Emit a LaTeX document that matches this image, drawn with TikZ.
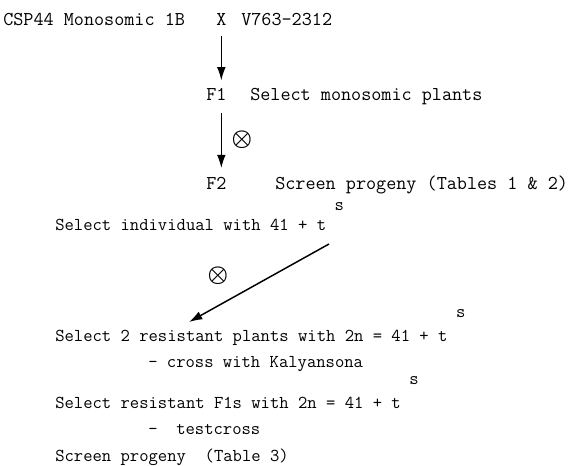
\documentclass[tikz,border=0pt]{standalone}
\usetikzlibrary{arrows.meta}
\begin{document}
\begin{tikzpicture}[
	x=0.75pt, y=-0.75pt,
	every node/.style={font=\ttfamily\fontsize{14.7}{17}\selectfont, inner sep=0pt, anchor=base west},
	lowertext/.style={font=\ttfamily\fontsize{13.6}{16}\selectfont},
	steparrow/.style={line width=1.1pt, -{Latex[length=10pt, width=6.5pt]}},
	selfing/.style={font=\fontsize{16}{16}\selectfont\boldmath, anchor=center},
	supers/.style={lowertext, anchor=base west},
]
\useasboundingbox (0,0) rectangle (577,466);
% cross
\node (parent) at (3,26) {CSP44 Monosomic 1B};
\node (cross) at (216,26) {X};
\node (donor) at (241,26) {V763-2312};
% F1
\node (fone) at (206,101) {F1};
\node (fonetext) at (250,101) {Select monosomic plants};
\draw[steparrow] ([yshift=-7pt]cross.south) -- ([yshift=6pt]cross.south |- fone.north);
\node[selfing] (selfone) at (242,140) {$\otimes$};
% F2
\node (ftwo) at (206,190) {F2};
\node (ftwotext) at (275,190) {Screen progeny (Tables 1 \& 2)};
\draw[steparrow] ([yshift=-9pt]fone.south -| cross.south) -- ([yshift=7pt]cross.south |- ftwo.north);
% selection
\node[lowertext] (indiv) at (55,231) {Select individual with 41 + t};
\node[supers] (indivs) at ([xshift=6pt, yshift=15pt]indiv.base east) {s};
\node[selfing] (selftwo) at (218,276) {$\otimes$};
\coordinate (diagstart) at (329,244);
\coordinate (diagend) at (189,322);
\draw[steparrow] (diagstart) -- (diagend);
\node[lowertext] (resist) at (55,341) {Select 2 resistant plants with 2n = 41 + t};
\node[supers] (resists) at ([xshift=6pt, yshift=18pt]resist.base east) {s};
\node[lowertext] (kalyan) at (148,367) {- cross with Kalyansona};
\node[lowertext] (fones) at (55,408) {Select resistant F1s with 2n = 41 + t};
\node[supers] (foness) at ([xshift=6pt, yshift=18pt]fones.base east) {s};
\node[lowertext] (testc) at (148,434) {-\ \ testcross};
\node[lowertext] (screen) at (55,461) {Screen progeny\ \ (Table 3)};
\end{tikzpicture}
\end{document}
